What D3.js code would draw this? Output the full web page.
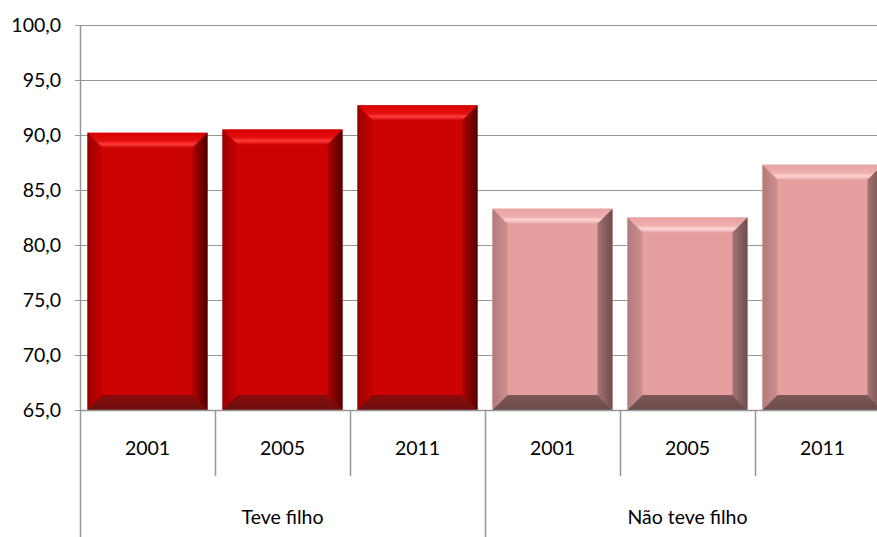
<!DOCTYPE html>
<html>
<head>
<meta charset="utf-8">
<script src="https://cdn.jsdelivr.net/npm/d3@7"></script>
<style>
  html, body { margin: 0; padding: 0; background: #fff; }
  svg { display: block; font-family: Lato, "Open Sans", sans-serif; }
</style>
</head>
<body>
<svg id="chart" width="877" height="537"></svg>
<script>
// Grouped categories: two groups, three survey years each
const groups = ["Teve filho", "Não teve filho"];
const years = ["2001", "2005", "2011"];
const valuesTeve = [90.2, 90.5, 92.7];
const valuesNao = [83.3, 82.5, 87.3];
const yTicks = [65, 70, 75, 80, 85, 90, 95, 100];

const rows = [];
groups.forEach((g, gi) => {
  const vals = gi === 0 ? valuesTeve : valuesNao;
  years.forEach((yr, i) => rows.push({ key: g + "|" + yr, group: g, gi, year: yr, value: vals[i] }));
});

const W = 877, H = 537;
const plotLeft = 80, plotTop = 25, baseY = 410;
const step = 135;
const fontSize = 19.5;
const svg = d3.select("#chart");

const x = d3.scaleBand()
  .domain(rows.map(d => d.key))
  .range([plotLeft, plotLeft + step * rows.length])
  .paddingInner(1 / 9)
  .paddingOuter(1 / 18);

const y = d3.scaleLinear().domain([65, 100]).range([baseY, plotTop]);

const fmt = v => d3.format(".1f")(v).replace(".", ",");
const gridColor = "#969696";

// horizontal gridlines + ticks
svg.append("g").selectAll("line")
  .data(yTicks).join("line")
  .attr("x1", plotLeft - 5).attr("x2", W)
  .attr("y1", d => Math.round(y(d)) + 0.5).attr("y2", d => Math.round(y(d)) + 0.5)
  .attr("stroke", gridColor).attr("stroke-width", 1.2);

svg.append("g").selectAll("text")
  .data(yTicks).join("text")
  .attr("x", 61).attr("y", d => y(d))
  .attr("dy", "0.35em")
  .attr("text-anchor", "end")
  .attr("font-size", fontSize)
  .attr("fill", "#000")
  .text(fmt);

// bevel gradients
const defs = svg.append("defs");
const palettes = [
  { name: "red", face: "#cc0303",
    top: [["0%", "#d40000"], ["55%", "#e61010"], ["75%", "#ff3a3a"], ["100%", "#d00808"]],
    left: [["0%", "#9a0000"], ["100%", "#c80000"]],
    right: [["0%", "#b00000"], ["100%", "#4e0000"]],
    bottom: [["0%", "#8a0a0a"], ["100%", "#6a1010"]] },
  { name: "pink", face: "#e49f9e",
    top: [["0%", "#e6a3a2"], ["55%", "#eeb0af"], ["75%", "#ffd6d5"], ["100%", "#e6a6a5"]],
    left: [["0%", "#b07b7a"], ["100%", "#cf908f"]],
    right: [["0%", "#a47574"], ["100%", "#6e4c4b"]],
    bottom: [["0%", "#7c5857"], ["100%", "#6a4c4b"]] }
];
palettes.forEach(p => {
  const mk = (side, x1, y1, x2, y2, stops) => {
    const lg = defs.append("linearGradient")
      .attr("id", p.name + "-" + side)
      .attr("x1", x1).attr("y1", y1).attr("x2", x2).attr("y2", y2);
    stops.forEach(s => lg.append("stop").attr("offset", s[0]).attr("stop-color", s[1]));
  };
  mk("top", 0, 0, 0, 1, p.top);
  mk("left", 0, 0, 1, 0, p.left);
  mk("right", 0, 0, 1, 0, p.right);
  mk("bottom", 0, 0, 0, 1, p.bottom);
});

// bars with bevelled edges
const bev = 15;
const bars = svg.append("g").selectAll("g")
  .data(rows).join("g");

bars.each(function (d) {
  const g = d3.select(this);
  const p = palettes[d.gi];
  const x0 = x(d.key), x1 = x0 + x.bandwidth();
  const y0 = y(d.value), y1 = y(65);
  g.append("rect")
    .attr("x", x0).attr("y", y0)
    .attr("width", x1 - x0).attr("height", y1 - y0)
    .attr("fill", p.face);
  const poly = (pts, side) => g.append("polygon")
    .attr("points", pts.map(q => q.join(",")).join(" "))
    .attr("fill", `url(#${p.name}-${side})`);
  poly([[x0, y0], [x1, y0], [x1 - bev, y0 + bev], [x0 + bev, y0 + bev]], "top");
  poly([[x0, y0], [x0 + bev, y0 + bev], [x0 + bev, y1 - bev], [x0, y1]], "left");
  poly([[x1, y0], [x1, y1], [x1 - bev, y1 - bev], [x1 - bev, y0 + bev]], "right");
  poly([[x0, y1], [x0 + bev, y1 - bev], [x1 - bev, y1 - bev], [x1, y1]], "bottom");
});

// category axis
const axisColor = "#969696";
svg.append("line")
  .attr("x1", plotLeft + 0.5).attr("x2", plotLeft + 0.5)
  .attr("y1", plotTop).attr("y2", H)
  .attr("stroke", axisColor).attr("stroke-width", 1.5);
svg.append("line")
  .attr("x1", plotLeft).attr("x2", W)
  .attr("y1", baseY + 0.5).attr("y2", baseY + 0.5)
  .attr("stroke", axisColor).attr("stroke-width", 1.5);

// separators between years (short) and groups (long)
const bounds = d3.range(1, rows.length + 1).map(i => plotLeft + step * i);
svg.append("g").selectAll("line")
  .data(bounds).join("line")
  .attr("x1", d => d + 0.5).attr("x2", d => d + 0.5)
  .attr("y1", baseY)
  .attr("y2", (d, i) => ((i + 1) % years.length === 0 ? H : 476))
  .attr("stroke", axisColor).attr("stroke-width", 1.5);

svg.append("g").selectAll("text")
  .data(rows).join("text")
  .attr("x", d => x(d.key) + x.bandwidth() / 2)
  .attr("y", 448).attr("dy", "0.35em")
  .attr("text-anchor", "middle")
  .attr("font-size", fontSize).attr("fill", "#000")
  .text(d => d.year);

svg.append("g").selectAll("text")
  .data(groups).join("text")
  .attr("x", (d, i) => plotLeft + step * years.length * (i + 0.5))
  .attr("y", 517).attr("dy", "0.35em")
  .attr("text-anchor", "middle")
  .attr("font-size", fontSize).attr("fill", "#000")
  .text(d => d);
</script>
</body>
</html>
